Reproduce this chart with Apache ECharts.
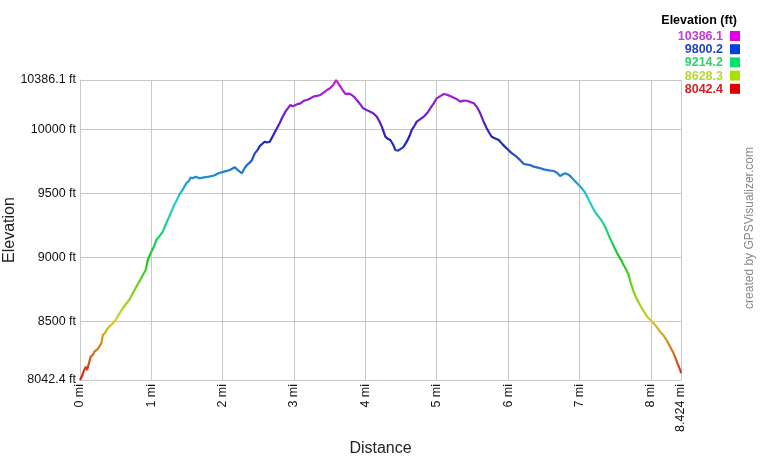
<!DOCTYPE html>
<html>
<head>
<meta charset="utf-8">
<script src="https://cdn.jsdelivr.net/npm/echarts@6/dist/echarts.min.js"></script>
<style>html,body{margin:0;padding:0;background:#fff}#c{width:760px;height:460px}</style>
</head>
<body>
<div id="c"></div>
<script>
var distances = [0.00,0.03,0.05,0.08,0.10,0.12,0.15,0.18,0.20,0.22,0.25,0.27,0.30,0.32,0.35,0.38,0.41,0.45,0.50,0.55,
0.60,0.65,0.69,0.74,0.79,0.84,0.88,0.92,0.95,0.97,1.00,1.04,1.07,1.12,1.16,1.20,1.25,1.29,1.32,1.35,
1.39,1.44,1.49,1.53,1.55,1.58,1.62,1.67,1.74,1.81,1.88,1.95,2.02,2.10,2.17,2.20,2.24,2.27,2.31,2.34,
2.38,2.41,2.45,2.49,2.52,2.56,2.59,2.62,2.66,2.71,2.76,2.80,2.83,2.88,2.92,2.95,2.98,3.02,3.06,3.09,
3.14,3.18,3.22,3.27,3.32,3.37,3.42,3.46,3.50,3.55,3.57,3.59,3.62,3.65,3.69,3.72,3.77,3.81,3.85,3.88,
3.93,3.97,4.04,4.11,4.16,4.20,4.23,4.28,4.32,4.35,4.39,4.42,4.46,4.50,4.53,4.58,4.62,4.65,4.69,4.72,
4.77,4.82,4.87,4.91,4.96,5.00,5.05,5.10,5.15,5.21,5.27,5.33,5.38,5.42,5.47,5.52,5.57,5.61,5.65,5.70,
5.74,5.77,5.82,5.87,5.92,5.98,6.05,6.12,6.17,6.22,6.27,6.31,6.36,6.43,6.50,6.57,6.64,6.69,6.73,6.77,
6.80,6.84,6.87,6.93,6.99,7.04,7.08,7.13,7.18,7.22,7.27,7.32,7.36,7.43,7.48,7.53,7.58,7.62,7.66,7.69,
7.72,7.76,7.80,7.85,7.90,7.95,8.02,8.08,8.13,8.18,8.22,8.27,8.32,8.37,8.42,8.424];
var elevations = [8042.4,8075,8110,8146,8120,8134,8225,8240,8262,8277,8285,8303,8330,8394,8410,8440,8459,8480,8511,8560,
8603,8640,8668,8720,8771,8820,8863,8900,8980,8990,9045,9090,9136,9170,9201,9255,9318,9370,9410,9440,
9488,9530,9579,9600,9625,9618,9630,9618,9625,9631,9640,9660,9670,9683,9704,9688,9670,9657,9700,9722,
9740,9761,9813,9840,9870,9890,9904,9898,9904,9956,10009,10050,10087,10139,10170,10191,10180,10191,10200,10204,
10225,10230,10240,10256,10262,10269,10290,10308,10320,10347,10360,10386.1,10360,10334,10300,10277,10280,10269,10250,10230,
10195,10165,10145,10126,10100,10060,10022,9943,9925,9917,9880,9839,9834,9850,9860,9904,9950,9996,10030,10061,
10080,10100,10130,10165,10205,10243,10260,10277,10270,10256,10240,10217,10225,10224,10215,10204,10170,10126,10070,10009,
9970,9943,9930,9917,9885,9852,9815,9787,9760,9730,9725,9722,9709,9700,9688,9680,9675,9660,9636,9650,
9657,9648,9636,9600,9566,9536,9506,9450,9396,9355,9318,9280,9240,9149,9090,9032,8985,8941,8900,8863,
8800,8732,8680,8628,8580,8537,8498,8460,8420,8390,8355,8305,8251,8180,8110,8095];

var xTicks = [0,1,2,3,4,5,6,7,8,8.424];
var yTicks = [8042.4,8500,9000,9500,10000,10386.1];
var legendValues = ['10386.1','9800.2','9214.2','8628.3','8042.4'];
var legendTextColors = ['#c83ad0','#2244c4','#2fd070','#b6d63a','#d02020'];
var legendBoxColors = ['#e000e0','#0040e0','#00e070','#a8e000','#e00000'];
var lineColors = ['#d11f1f','#d1781f','#d1d11f','#78d11f','#1fc81f','#1fd178','#1fd1d1','#1f78d1','#2020b8','#7a20d0','#c81fd1'];

var yMin = 8042.4, yMax = 10386.1;
var FONT = '"Liberation Sans", Arial, sans-serif';

var graphics = [{
  type: 'text', right: 23, top: 14,
  style: { text: 'Elevation (ft)', font: 'bold 12.5px ' + FONT, fill: '#000', textAlign: 'right' }
}];
legendValues.forEach(function (v, i) {
  graphics.push({
    type: 'text', right: 37, top: 30 + i * 13.2,
    style: { text: v, font: 'bold 12.5px ' + FONT, fill: legendTextColors[i], textAlign: 'right' }
  });
  graphics.push({
    type: 'rect', shape: { x: 730, y: 31 + i * 13.2, width: 10, height: 10 },
    style: { fill: legendBoxColors[i] }
  });
});
graphics.push({
  type: 'text', x: 756, y: 228, rotation: Math.PI / 2,
  style: { text: 'created by GPSVisualizer.com', font: '12px ' + FONT, fill: '#888', textAlign: 'center', textVerticalAlign: 'bottom' }
});

var chart = echarts.init(document.getElementById('c'), null, { renderer: 'canvas' });
chart.setOption({
  animation: false,
  backgroundColor: '#fff',
  grid: { left: 80, right: 79, top: 80, bottom: 80, containLabel: false, outerBoundsMode: 'none' },
  xAxis: {
    type: 'value', min: 0, max: 8.424,
    name: 'Distance', nameLocation: 'middle', nameGap: 61,
    nameTextStyle: { fontFamily: FONT, fontSize: 16, color: '#222' },
    axisLine: { show: true, lineStyle: { color: '#c8c8c8', width: 1 } },
    axisTick: { show: false, customValues: xTicks },
    splitLine: { show: true, lineStyle: { color: '#c8c8c8', width: 1 } },
    axisLabel: {
      customValues: xTicks, rotate: 90, margin: 4, hideOverlap: false,
      fontFamily: FONT, fontSize: 12.5, color: '#111',
      formatter: function (v) { return v + ' mi'; }
    }
  },
  yAxis: {
    type: 'value', min: yMin, max: yMax,
    name: 'Elevation', nameLocation: 'middle', nameGap: 62, nameMoveOverlap: false,
    nameTextStyle: { fontFamily: FONT, fontSize: 16, color: '#222' },
    axisLine: { show: true, lineStyle: { color: '#c8c8c8', width: 1 } },
    axisTick: { show: false, customValues: yTicks },
    splitLine: { show: true, lineStyle: { color: '#c8c8c8', width: 1 } },
    axisLabel: {
      customValues: yTicks, margin: 4, hideOverlap: false,
      fontFamily: FONT, fontSize: 12.5, color: '#111',
      formatter: function (v) { return v + ' ft'; }
    }
  },
  visualMap: {
    show: false, type: 'continuous', dimension: 1, seriesIndex: 0,
    min: yMin, max: yMax, inRange: { color: lineColors }
  },
  series: [{
    type: 'line', showSymbol: false, symbol: 'none',
    data: distances.map(function (d, i) { return [d, elevations[i]]; }),
    lineStyle: { width: 2.2 }
  }],
  graphic: graphics
});
</script>
</body>
</html>
